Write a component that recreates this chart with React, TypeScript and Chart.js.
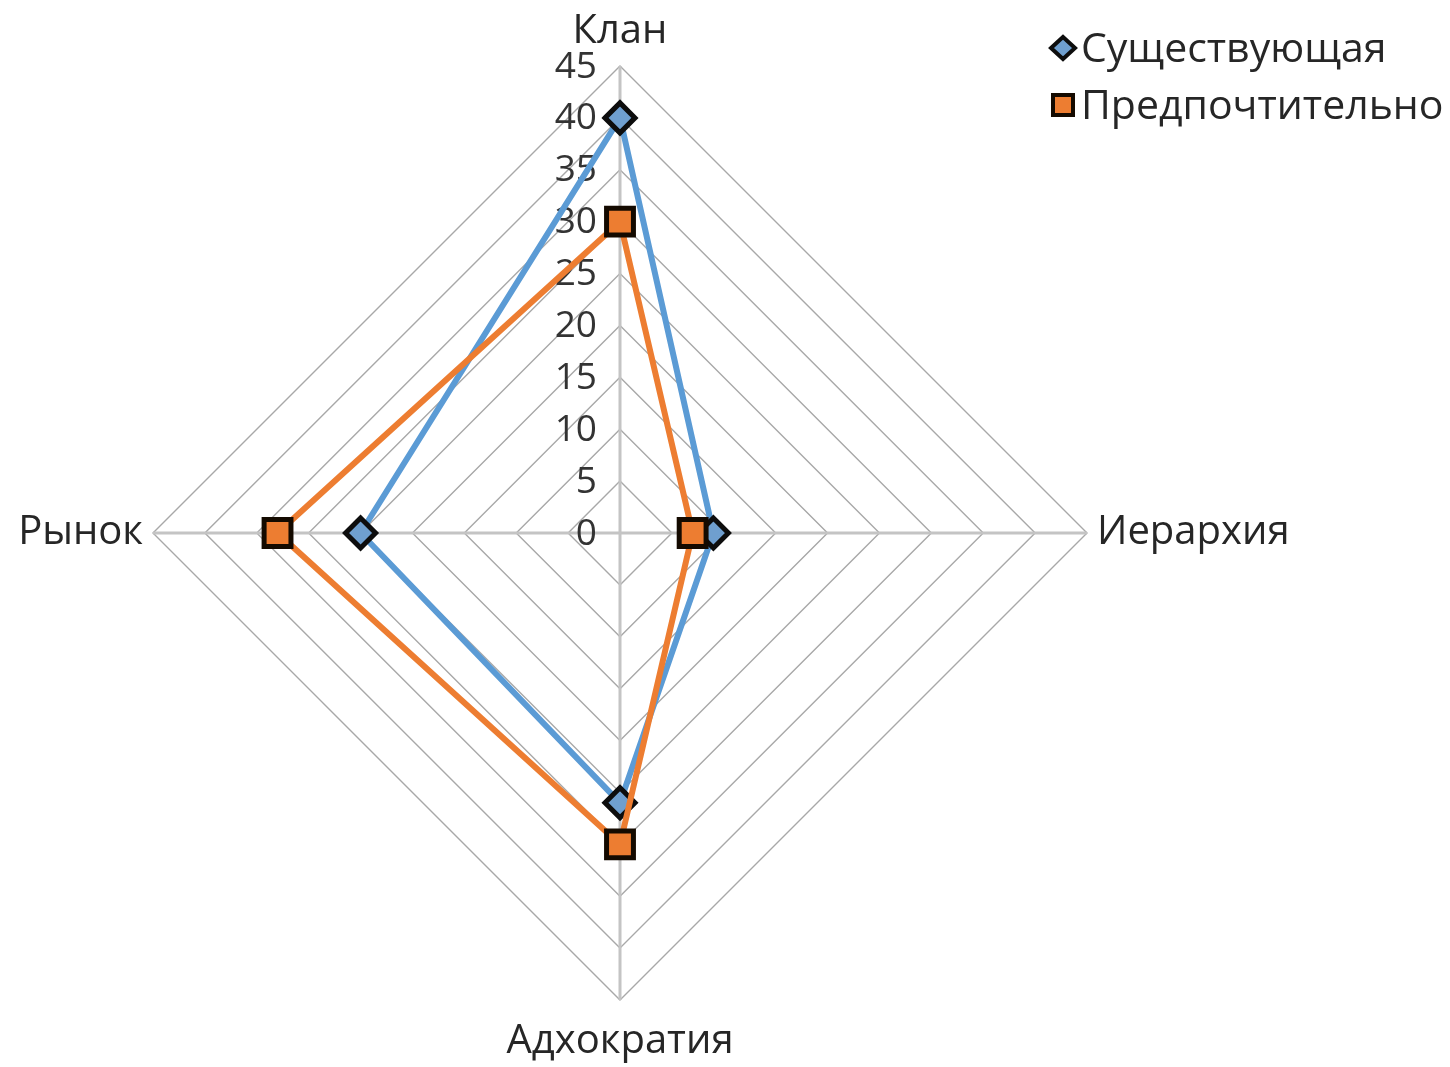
import React, { useEffect, useRef } from 'react';
import { Chart, registerables } from 'chart.js';

Chart.register(...registerables);

const categories = ['Клан', 'Иерархия', 'Адхократия', 'Рынок'];
const seriesNames = ['Существующая', 'Предпочтительно'];
const existingValues = [40, 9, 26, 25];
const preferredValues = [30, 7, 30, 33];
const tickValues = [0, 5, 10, 15, 20, 25, 30, 35, 40, 45];

const FONT = '"Open Sans", "Noto Sans", "DejaVu Sans", sans-serif';
const BLUE = '#5b9bd5';
const ORANGE = '#ed7d31';
const SHIFT = 150; // canvas starts this far left of the page edge

const tickLabelPlugin = {
  id: 'leftTickLabels',
  beforeDatasetsDraw(chart: any) {
    const r = chart.scales.r;
    const ctx = chart.ctx;
    ctx.save();
    ctx.font = `37px ${FONT}`;
    ctx.fillStyle = '#333333';
    ctx.textAlign = 'right';
    ctx.textBaseline = 'middle';
    tickValues.forEach((v) => {
      const y = r.yCenter - r.getDistanceFromCenterForValue(v);
      ctx.fillText(String(v), r.xCenter - 23, y + 1);
    });
    ctx.restore();
  },
};

const legendPlugin = {
  id: 'cornerLegend',
  afterDraw(chart: any) {
    const ctx = chart.ctx;
    const rowY = [48, 105];
    const mx = 1063 + SHIFT;
    chart.data.datasets.forEach((ds: any, i: number) => {
      const y = rowY[i];
      ctx.save();
      ctx.lineWidth = 4;
      ctx.strokeStyle = ds.pointBorderColor;
      ctx.fillStyle = ds.pointBackgroundColor;
      ctx.beginPath();
      if (ds.pointStyle === 'rectRot') {
        ctx.moveTo(mx, y - 11);
        ctx.lineTo(mx + 12, y);
        ctx.lineTo(mx, y + 11);
        ctx.lineTo(mx - 12, y);
        ctx.closePath();
      } else {
        ctx.rect(mx - 10, y - 10, 20, 20);
      }
      ctx.fill();
      ctx.stroke();
      ctx.font = `41px ${FONT}`;
      ctx.fillStyle = '#262626';
      ctx.textAlign = 'left';
      ctx.textBaseline = 'middle';
      ctx.fillText(ds.label, 1081 + SHIFT, y + 2);
      ctx.restore();
    });
  },
};

export default function App() {
  const canvasRef = useRef<HTMLCanvasElement | null>(null);

  useEffect(() => {
    const canvas = canvasRef.current;
    if (!canvas) return;
    const chart = new Chart(canvas, {
      type: 'radar',
      data: {
        labels: categories,
        datasets: [
          {
            label: seriesNames[0],
            data: existingValues,
            borderColor: BLUE,
            backgroundColor: 'rgba(0,0,0,0)',
            borderWidth: 6,
            fill: false,
            borderJoinStyle: 'round',
            pointStyle: 'rectRot',
            pointRadius: 15,
            pointBorderWidth: 5,
            pointBorderColor: '#0d0d0d',
            pointBackgroundColor: '#6f9fcf',
            order: 1,
          },
          {
            label: seriesNames[1],
            data: preferredValues,
            borderColor: ORANGE,
            backgroundColor: 'rgba(0,0,0,0)',
            borderWidth: 6,
            fill: false,
            borderJoinStyle: 'round',
            pointStyle: 'rect',
            pointRadius: 19,
            pointBorderWidth: 5,
            pointBorderColor: '#140a00',
            pointBackgroundColor: ORANGE,
            order: 0,
          },
        ],
      } as any,
      options: {
        responsive: false,
        animation: false,
        layout: { padding: { left: 0, right: 60, top: 8, bottom: 9 } },
        plugins: {
          legend: { display: false },
          tooltip: { enabled: false },
        },
        elements: { line: { tension: 0 } },
        scales: {
          r: {
            min: 0,
            max: 45,
            ticks: { stepSize: 5, display: false },
            grid: { color: '#a8a8a8', lineWidth: 1.4 },
            angleLines: { color: '#c4c4c4', lineWidth: 3 },
            pointLabels: {
              color: '#262626',
              font: (c: any) => ({ size: 40, family: FONT, lineHeight: c.index === 2 ? 0.8 : 1.2 }),
              padding: (c: any) => [10, 10, 26, 10][c.index],
            },
          },
        },
      } as any,
      plugins: [tickLabelPlugin, legendPlugin],
    });
    return () => chart.destroy();
  }, []);

  return (
    <div style={{ position: 'absolute', left: -SHIFT, top: 0, width: 1450 + SHIFT, height: 1067, background: '#fff' }}>
      <canvas
        ref={canvasRef}
        width={1450 + SHIFT}
        height={1067}
        style={{ display: 'block', width: 1450 + SHIFT, height: 1067 }}
      />
    </div>
  );
}
